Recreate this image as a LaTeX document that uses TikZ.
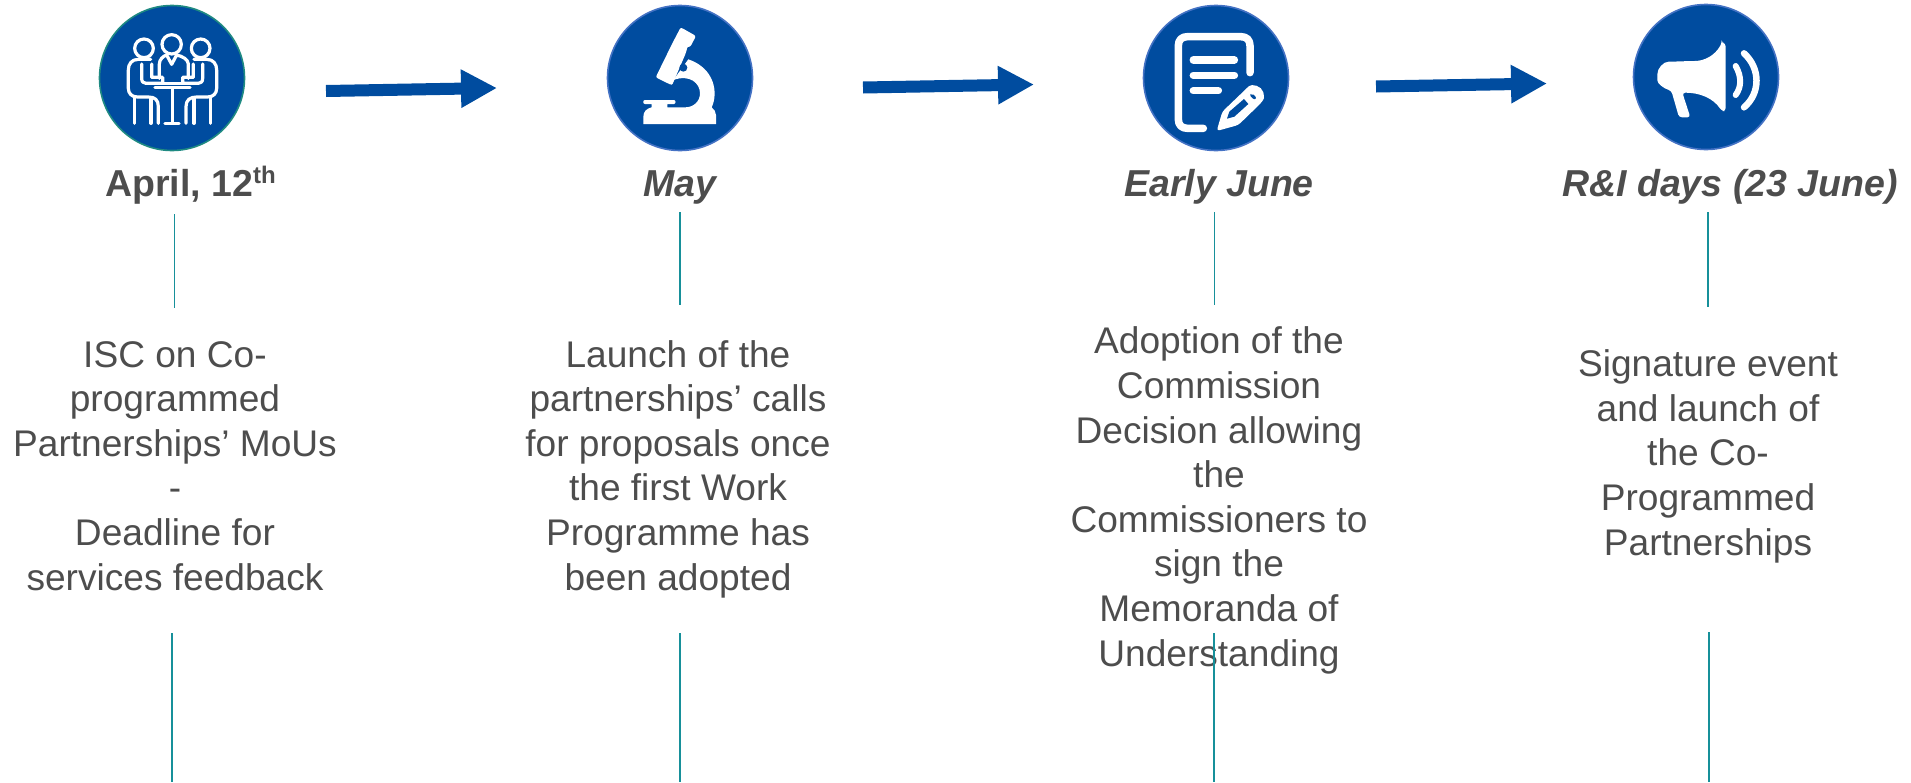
\documentclass[tikz,border=0pt]{standalone}
\usepackage{fontspec}
\setmainfont{Liberation Sans}
\usetikzlibrary{arrows.meta}
\definecolor{iconblue}{HTML}{004C9F}
\definecolor{ringblue}{HTML}{4472C4}
\definecolor{ringteal}{HTML}{1F8A82}
\definecolor{rulecol}{HTML}{17909A}
\definecolor{textgrey}{HTML}{4D4D4D}
\tikzset{
  bodytext/.style={anchor=base,inner sep=0pt,align=center,text=textgrey,font=\fontsize{37.1}{44.6}\selectfont},
  titletext/.style={anchor=base,inner sep=0pt,text=textgrey,font=\fontsize{37.5}{44}\selectfont\bfseries},
  titleital/.style={titletext,font=\fontsize{37.5}{44}\selectfont\bfseries\itshape},
  disc/.style={circle,fill=iconblue,draw=ringblue,line width=1.6pt,minimum size=145pt,inner sep=0pt},
  bigarrow/.style={draw=iconblue,line width=12pt,-{Triangle[length=36pt,width=36pt,fill=iconblue]}},
  stem/.style={draw=rulecol,line width=1.1pt},
  iconline/.style={draw=white,line width=3.2pt,line cap=round,line join=round,fill=none},
  iconbold/.style={draw=white,line width=7.5pt,line cap=round,line join=round,fill=none},
  zoomed/.style={x=0.33333pt,y=-0.33333pt}
}
\begin{document}
\begin{tikzpicture}[x=1pt,y=-1pt]
\useasboundingbox (0,0) rectangle (1911,782);
% discs
\node[disc,draw=ringteal] (d1) at (172,78) {};
\node[disc] (d2) at (680,78) {};
\node[disc] (d3) at (1216,78) {};
\node[disc] (d4) at (1706,77) {};
% icon 1: people round a table
\begin{scope}[shift={(80,0)},zoomed]
  \draw[iconline] (192,145) circle[radius=28];
  \draw[iconline] (275,133) circle[radius=29];
  \draw[iconline] (362,145) circle[radius=28];
  \draw[iconline] (212,178) -- (175,178) .. controls (155,178) and (145,192) .. (145,210) -- (145,265) .. controls (145,280) and (155,291) .. (172,291) -- (205,291) .. controls (225,291) and (235,300) .. (235,320) -- (235,370);
  \draw[iconline] (163,293) -- (163,370);
  \draw[iconline] (213,293) -- (213,370);
  \draw[iconline] (185,192) -- (185,235) .. controls (185,245) and (190,250) .. (198,250) -- (248,250) -- (248,232) -- (215,232) -- (215,192);
  \draw[iconline] (238,235) -- (238,192) .. controls (238,178) and (250,168) .. (260,165) -- (275,193) -- (290,165) .. controls (305,168) and (325,178) .. (325,192) -- (325,235);
  \draw[iconline] (248,250) -- (308,250);
  \draw[iconline] (342,178) -- (380,178) .. controls (400,178) and (410,192) .. (410,210) -- (410,265) .. controls (410,280) and (400,291) .. (383,291) -- (350,291) .. controls (330,291) and (318,300) .. (318,320) -- (318,370);
  \draw[iconline] (392,293) -- (392,370);
  \draw[iconline] (342,293) -- (342,370);
  \draw[iconline] (368,192) -- (368,235) .. controls (368,245) and (363,250) .. (355,250) -- (308,250) -- (308,232) -- (340,232) -- (340,192);
  \draw[iconline] (225,263) -- (330,263);
  \draw[iconline] (277,263) -- (277,370);
  \draw[iconline] (255,370) -- (297,370);
\end{scope}
% icon 2: microscope
\begin{scope}[shift={(590,0)},zoomed]
  \fill[white,rounded corners=2pt] (272,82) -- (318,108) -- (300,142) -- (293,138) -- (288,158) -- (246,256) -- (197,232) -- (250,124) -- (256,113) -- cycle;
  \fill[white] (160,372) -- (378,372) -- (378,345) .. controls (378,335) and (372,328) .. (365,322)
     .. controls (385,280) and (375,205) .. (295,178) -- (250,240) .. controls (300,222) and (330,250) .. (330,280)
     .. controls (330,305) and (310,322) .. (285,322) -- (232,322) -- (232,312) -- (252,312) .. controls (258,312) and (258,300) .. (252,300)
     -- (165,300) .. controls (158,300) and (158,312) .. (165,312) -- (185,312) -- (185,322) .. controls (170,325) and (160,335) .. (160,350) -- cycle;
  \fill[iconblue] (280,203) circle[radius=12];
\end{scope}
% icon 3: document and pencil
\begin{scope}[shift={(1130,0)},zoomed]
  \draw[iconbold] (220,385) -- (172,385) .. controls (155,385) and (145,375) .. (145,358) -- (145,137) .. controls (145,120) and (155,110) .. (172,110) -- (333,110) .. controls (350,110) and (360,120) .. (360,137) -- (360,218);
  \draw[iconbold] (190,180) -- (313,180);
  \draw[iconbold] (190,226) -- (313,226);
  \draw[iconbold] (190,272) -- (265,272);
  \fill[white,rounded corners=3pt] (260,393) -- (277,335) -- (350,265) .. controls (365,250) and (395,258) .. (402,285) .. controls (402,295) and (398,302) .. (392,310) -- (325,375) -- cycle;
  \fill[iconblue] (291,356) -- (298,335) -- (342,297) -- (355,312) -- (313,350) -- cycle;
  \fill[iconblue,rounded corners=2pt] (358,285) -- (366,280) -- (380,293) -- (373,300) -- cycle;
\end{scope}
% icon 4: megaphone
\begin{scope}[shift={(1620,0)},zoomed]
  \fill[white,rounded corners=3pt] (305,130) -- (317,130) -- (317,333) -- (305,333) .. controls (280,295) and (240,278) .. (187,278) -- (211,352) -- (177,352) -- (154,272) .. controls (130,265) and (112,250) .. (112,232) .. controls (112,205) and (130,185) .. (155,185) -- (215,183) .. controls (255,183) and (285,165) .. (305,130) -- cycle;
  \draw[white,line width=6pt,line cap=round] (347,198) .. controls (365,230) and (365,260) .. (347,285);
  \draw[white,line width=6.5pt,line cap=round] (372,160) .. controls (422,205) and (422,280) .. (372,322);
\end{scope}
% arrows
\coordinate (a1s) at (326,91); \coordinate (a1e) at (497,88);
\coordinate (a2s) at (863,87.5); \coordinate (a2e) at (1034,84.5);
\coordinate (a3s) at (1376,86.5); \coordinate (a3e) at (1547,83.5);
\draw[bigarrow] (a1s) -- (a1e);
\draw[bigarrow] (a2s) -- (a2e);
\draw[bigarrow] (a3s) -- (a3e);
% titles
\node[titletext] (t1) at (190.5,196) {April, 12\raisebox{13pt}{\fontsize{24}{24}\selectfont th}};
\node[titleital] (t2) at (680,196) {May};
\node[titleital] (t3) at (1219,196) {Early June};
\node[titleital] (t4) at (1730,196) {R\&I days (23 June)};
% body texts
\node[bodytext] (b1) at (175,590) {ISC on Co-\\programmed\\Partnerships’ MoUs\\-\\Deadline for\\services feedback};
\node[bodytext] (b2) at (678,590) {Launch of the\\partnerships’ calls\\for proposals once\\the first Work\\Programme has\\been adopted};
\node[bodytext] (b3) at (1219,666) {Adoption of the\\Commission\\Decision allowing\\the\\Commissioners to\\sign the\\Memoranda of\\Understanding};
\node[bodytext] (b4) at (1708,555) {Signature event\\and launch of\\the Co-\\Programmed\\Partnerships};
% stems
\coordinate (s1a) at (174.5,214); \coordinate (s1b) at (174.5,308);
\coordinate (s2a) at (680,212); \coordinate (s2b) at (680,305);
\coordinate (s3a) at (1214.5,212); \coordinate (s3b) at (1214.5,305);
\coordinate (s4a) at (1708,212); \coordinate (s4b) at (1708,307);
\coordinate (u1a) at (172,633); \coordinate (u1b) at (172,782);
\coordinate (u2a) at (680,633); \coordinate (u2b) at (680,782);
\coordinate (u3a) at (1214,633); \coordinate (u3b) at (1214,782);
\coordinate (u4a) at (1709,632); \coordinate (u4b) at (1709,782);
\foreach \p/\q in {s1a/s1b,s2a/s2b,s3a/s3b,s4a/s4b,u1a/u1b,u2a/u2b,u3a/u3b,u4a/u4b}
  \draw[stem] (\p) -- (\q);
\end{tikzpicture}
\end{document}
